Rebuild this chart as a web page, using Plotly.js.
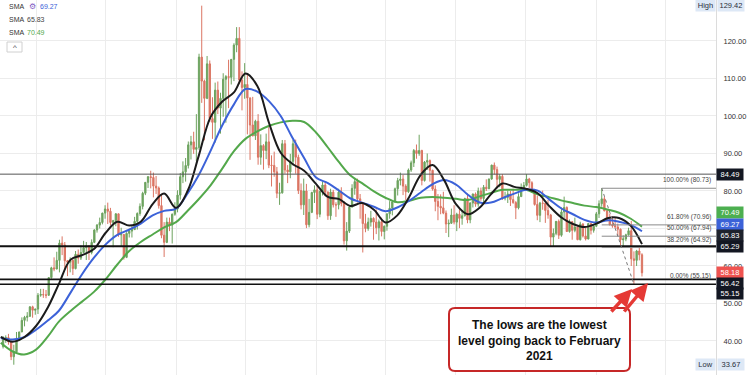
<!DOCTYPE html>
<html><head><meta charset="utf-8">
<script src="https://cdn.plot.ly/plotly-3.0.1.min.js"></script>
<style>html,body{margin:0;padding:0;background:#fff}#chart{width:750px;height:375px}</style>
</head><body><div id="chart"></div>
<script>
// Weekly candles, weeks starting 2020-10-05
const openP = [
38.5,40.6,40.9,39.8,35.8,37.1,40.1,42.4,45.5,46.3,46.6,49.1,48.2,
48.5,52.2,52.4,52.3,52.2,56.9,59.5,59.2,61.5,66.1,65.6,61.4,61.0,61.5,59.3,63.1,62.1,63.6,64.9,65.4,63.6,66.3,69.6,70.9,71.6,74.1,75.2,74.6,71.6,72.1,73.9,68.3,68.4,62.3,68.7,69.3,69.7,71.9,74.0,75.9,79.4,82.3,83.8,83.6,81.3,80.8,76.1,68.2,66.3,71.7,70.9,73.8,
75.2,78.9,83.8,85.1,86.8,92.3,93.1,91.1,91.6,115.7,109.3,104.7,113.9,99.3,98.3,106.9,102.1,104.7,109.8,110.5,110.3,115.1,118.9,120.7,109.6,107.6,108.4,104.8,97.6,94.7,98.6,89.0,92.1,90.8,93.1,86.9,86.8,85.1,79.4,79.5,92.6,85.6,85.1,87.9,92.6,89.0,80.1,76.3,80.0,71.0,74.3,79.6,
80.3,73.8,79.9,81.6,79.7,73.4,79.7,76.3,76.3,79.7,76.7,66.7,69.3,75.7,80.7,82.5,77.9,76.8,71.3,70.0,71.7,72.7,71.7,70.2,71.8,69.2,70.6,73.9,75.4,77.1,80.6,82.8,83.2,81.3,79.8,85.6,87.5,90.8,90.0,90.8,82.8,87.7,88.1,85.5,80.5,77.2,75.9,75.5,74.1,71.2,71.4,73.6,
71.7,73.8,72.7,73.4,78.0,72.3,76.8,79.2,76.5,80.0,78.0,81.0,80.6,83.2,86.9,85.7,83.1,83.9,78.1,78.3,79.2,77.7,76.9,75.5,78.5,80.7,81.5,83.2,82.2,80.1,76.4,73.5,76.8,76.7,74.8,73.6,67.7,68.7,71.9,68.2,74.4,75.6,69.2,71.8,69.5,70.4,67.0,71.2,68.0,67.2,71.3,69.5,70.6,
73.9,76.6,77.9,74.7,72.5,71.0,70.7,70.4,69.8,67.0,67.2,68.3,69.4,61.9,61.5,64.0,63.0];
const highP = [
41.3,41.5,41.9,39.8,39.0,42.4,42.5,46.3,46.7,47.7,49.3,49.4,48.6,
52.8,53.9,53.9,53.6,57.0,59.8,62.3,63.8,67.0,67.9,66.4,61.6,62.3,61.8,64.0,64.4,65.5,66.7,66.4,65.5,67.1,69.8,71.2,72.9,74.2,76.2,76.9,75.5,72.3,74.1,74.0,70.2,68.4,69.0,70.0,70.8,73.1,74.3,76.7,79.8,82.4,84.0,85.4,84.9,84.0,81.2,79.1,71.7,72.9,72.9,74.0,77.0,
80.2,84.8,87.9,88.8,93.2,94.7,95.8,100.5,116.6,129.42,109.7,116.0,114.8,105.0,108.9,109.2,106.2,111.4,110.9,115.0,115.2,119.4,123.7,123.7,111.9,114.1,111.4,105.0,105.1,99.0,100.5,95.1,92.5,95.3,97.6,89.5,90.5,86.4,82.2,93.6,93.6,86.9,89.9,93.7,93.7,89.7,82.0,83.3,81.9,77.9,79.8,81.5,
81.5,80.1,82.5,82.6,79.9,80.6,80.3,77.0,80.6,81.0,77.3,71.7,76.0,81.8,83.5,83.3,79.2,76.9,73.9,72.9,74.7,73.0,75.1,72.4,72.9,70.8,74.0,77.3,77.2,80.9,83.5,84.9,84.3,81.8,86.0,88.1,91.2,92.4,95.0,91.0,88.0,90.0,88.4,85.7,81.5,79.2,79.1,79.8,74.8,72.4,75.3,76.2,
74.2,75.2,74.9,78.2,79.3,77.0,79.3,79.6,80.9,80.9,81.6,83.1,83.3,87.0,87.6,86.5,84.5,84.5,79.8,80.1,80.0,80.6,77.3,79.4,82.0,82.4,84.5,83.5,82.6,80.3,78.8,77.1,80.1,76.9,77.6,73.9,70.0,72.0,72.4,75.6,78.5,75.9,72.4,72.0,72.9,70.5,71.8,71.4,70.2,71.4,71.4,71.1,74.4,
77.5,80.73,78.5,75.2,73.9,73.3,72.8,71.3,70.0,68.2,68.6,70.2,72.0,63.9,64.3,64.87,63.4];
const lowP = [
38.0,39.5,39.0,34.9,33.67,37.0,40.0,42.4,43.9,45.2,46.4,46.2,47.0,
47.2,51.8,51.5,51.4,52.0,56.6,58.6,59.1,58.3,62.9,58.9,57.3,58.3,57.6,59.1,60.6,61.6,63.4,61.6,61.6,63.1,66.1,68.9,70.0,71.1,72.6,71.2,70.8,65.0,70.6,67.8,65.2,61.7,62.1,67.6,67.6,69.6,69.7,73.4,75.1,78.9,80.8,80.7,78.3,79.2,75.3,67.4,62.4,66.1,69.3,66.0,73.4,
74.3,77.7,82.1,82.5,86.0,88.4,89.9,88.0,91.0,103.5,93.5,104.5,98.4,93.9,92.9,100.5,95.3,99.8,98.2,102.1,108.4,109.3,117.0,108.5,101.5,104.6,95.1,88.3,94.6,93.6,87.0,87.0,85.7,88.5,86.1,81.2,83.8,78.1,76.3,79.3,84.6,82.1,83.4,86.8,84.6,79.2,75.1,73.6,70.1,70.3,74.1,76.8,
72.5,73.0,78.8,78.6,72.3,72.3,75.6,73.1,75.1,75.9,65.7,64.1,68.8,75.6,79.0,76.9,72.6,63.6,69.0,69.4,70.5,67.0,68.5,66.8,67.9,67.1,69.4,72.6,73.5,76.8,78.8,81.5,78.9,77.6,79.5,85.1,86.4,88.6,89.4,81.5,82.5,85.6,82.5,80.1,74.6,72.2,73.8,73.8,68.8,67.7,71.2,71.1,
69.3,70.1,71.0,73.2,71.4,71.4,75.6,75.8,75.8,77.4,76.8,80.0,80.5,83.0,84.4,80.7,81.0,77.6,77.5,76.8,76.0,76.6,72.5,75.1,78.4,80.0,81.2,80.8,79.6,76.1,72.2,71.7,75.0,71.5,72.6,65.3,65.29,68.2,67.2,67.8,72.8,69.1,68.9,67.0,69.0,66.9,66.8,67.6,66.8,67.1,68.4,68.9,70.5,
72.8,75.8,74.6,71.9,70.8,70.2,70.2,68.0,65.2,65.2,66.6,68.1,60.0,55.15,60.0,61.5,57.2];
const closeP = [
40.6,40.9,39.8,35.8,37.1,40.1,42.4,45.5,46.3,46.6,49.1,48.2,48.5,
52.2,52.4,52.3,52.2,56.9,59.5,59.2,61.5,66.1,65.6,61.4,61.0,61.5,59.3,63.1,62.1,63.6,64.9,65.4,63.6,66.3,69.6,70.9,71.6,74.1,75.2,74.6,71.6,72.1,73.9,68.3,68.4,62.3,68.7,69.3,69.7,71.9,74.0,75.9,79.4,82.3,83.8,83.6,81.3,80.8,76.1,68.2,66.3,71.7,70.9,73.8,75.2,
78.9,83.8,85.1,86.8,92.3,93.1,91.1,91.6,115.7,109.3,104.7,113.9,99.3,98.3,106.9,102.1,104.7,109.8,110.5,110.3,115.1,118.9,120.7,109.6,107.6,108.4,104.8,97.6,94.7,98.6,89.0,92.1,90.8,93.1,86.9,86.8,85.1,79.4,79.5,92.6,85.6,85.1,87.9,92.6,89.0,80.1,76.3,80.0,71.0,74.3,79.6,80.3,
73.8,79.9,81.6,79.7,73.4,79.7,76.3,76.3,79.7,76.7,66.7,69.3,75.7,80.7,82.5,77.9,76.8,71.3,70.0,71.7,72.7,71.7,70.2,71.8,69.2,70.6,73.9,75.4,77.1,80.6,82.8,83.2,81.3,79.8,85.6,87.5,90.8,90.0,90.8,82.8,87.7,88.1,85.5,80.5,77.2,75.9,75.5,74.1,71.2,71.4,73.6,71.7,
73.8,72.7,73.4,78.0,72.3,76.8,79.2,76.5,80.0,78.0,81.0,80.6,83.2,86.9,85.7,83.1,83.9,78.1,78.3,79.2,77.7,76.9,75.5,78.5,80.7,81.5,83.2,82.2,80.1,76.4,73.5,76.8,76.7,74.8,73.6,67.7,68.7,71.9,68.2,74.4,75.6,69.2,71.8,69.5,70.4,67.0,71.2,68.0,67.2,71.3,69.5,70.6,73.9,
76.6,77.9,74.7,72.5,71.0,70.7,70.4,69.8,67.0,67.2,68.3,69.4,61.9,61.5,64.0,63.0,58.18];

// Moving averages read monthly (Oct 2020 .. Apr 2025, then last bar)
const sma50 = [41.1,39.8,41.0,
44.0,49.0,55.1,61.7,62.9,64.5,68.8,71.8,70.8,71.8,76.5,79.3,
75.5,80.2,89.3,99.7,103.8,106.3,111.3,108.0,98.0,90.2,87.2,85.4,
81.9,78.4,77.9,76.0,76.8,75.0,71.6,73.5,78.4,84.3,86.9,82.9,
76.5,73.8,75.4,79.1,82.0,81.1,80.6,79.4,75.9,73.0,71.2,70.4,
71.3,72.8,72.8,70.7,65.83];
const sma100 = [40.8,40.4,41.0,
43.0,45.5,48.0,52.9,57.8,62.2,65.7,68.3,69.7,71.3,73.5,74.7,
75.3,79.5,84.2,90.7,97.4,103.1,107.2,106.5,103.9,100.0,94.1,88.8,
83.6,82.1,80.2,78.0,76.9,75.8,74.6,75.6,77.4,79.6,81.8,82.9,
81.7,79.0,77.0,76.9,78.1,79.3,80.3,80.1,77.7,75.4,73.8,72.3,
71.6,72.2,71.8,70.9,69.27];
const sma200 = [39.5,37.2,36.4,
37.7,41.2,45.1,48.0,50.5,53.1,56.4,60.4,64.0,66.4,68.4,70.3,
71.7,74.8,77.8,81.5,85.9,90.6,93.9,95.9,97.4,98.3,98.7,98.4,
95.6,91.6,87.8,84.1,82.1,79.9,78.2,77.0,77.4,78.2,78.4,78.2,
77.9,77.6,78.5,79.5,80.3,80.3,80.3,79.1,78.3,77.5,76.8,76.1,
75.7,75.0,74.2,72.6,70.49];

const levelValues = [84.49, 65.29, 56.42, 55.15];
const fibLevels = [80.73, 70.96, 67.94, 64.92, 55.15];
const fibNames = ['100.00%', '61.80%', '50.00%', '38.20%', '0.00%'];
const fibStart = '2025-01-15', fibEnd = '2025-04-09';
const priceTicks = [40, 50, 60, 70, 80, 90, 100, 110, 120];
const hiddenTicks = [70];   // covered by the price-scale boxes in the reference
const gridDates = ['2021-01-01','2021-07-01','2022-01-01','2022-07-01','2023-01-01','2023-07-01','2024-01-01','2024-07-01','2025-01-01','2025-07-01'];
const smaLast = {sma100: 69.27, sma50: 65.83, sma200: 70.49};
const scaleLabels = [84.49, 70.49, 69.27, 65.83, 65.29, 58.18, 56.42, 55.15];
const highLabel = 129.42, lowLabel = 33.67;

const weekDates = [];
const t0 = Date.UTC(2020, 9, 7);
for (let i = 0; i < closeP.length; i++) weekDates.push(new Date(t0 + i * 7 * 86400000).toISOString().slice(0, 10));
const smaDates = [];
for (let k = 0; k < 55; k++) smaDates.push(new Date(Date.UTC(2020, 9 + k, 1)).toISOString().slice(0, 10));
smaDates.push('2025-04-30');

const W = 716, H = 375;
const px = x => x / W, py = y => 1 - y / H;
const FONT = 'Liberation Sans, Arial, sans-serif';

const traces = [
  {type: 'candlestick', x: weekDates, open: openP, high: highP, low: lowP, close: closeP,
   increasing: {line: {color: '#6da35f', width: 1}, fillcolor: '#6da35f'},
   decreasing: {line: {color: '#db7563', width: 1}, fillcolor: '#db7563'},
   whiskerwidth: 0, hoverinfo: 'skip', showlegend: false},
  {type: 'scatter', mode: 'lines', x: smaDates, y: sma200, line: {color: '#53a84b', width: 2, shape: 'spline', smoothing: 1}, showlegend: false, hoverinfo: 'skip'},
  {type: 'scatter', mode: 'lines', x: smaDates, y: sma100, line: {color: '#3c62d8', width: 2, shape: 'spline', smoothing: 1}, showlegend: false, hoverinfo: 'skip'},
  {type: 'scatter', mode: 'lines', x: smaDates, y: sma50, line: {color: '#1b1b1b', width: 2, shape: 'spline', smoothing: 1}, showlegend: false, hoverinfo: 'skip'}
];

const shapes = [];
const lvlStyle = [{w: 1, c: '#555'}, {w: 2, c: '#111'}, {w: 1.6, c: '#111'}, {w: 1.6, c: '#111'}];
levelValues.forEach((v, i) => shapes.push({type: 'line', xref: 'paper', x0: 0, x1: 1, yref: 'y', y0: v, y1: v, line: {color: lvlStyle[i].c, width: lvlStyle[i].w}, layer: 'above'}));
fibLevels.forEach((v, i) => { if (i < 4) shapes.push({type: 'line', xref: 'x', x0: fibStart, x1: '2025-11-09', yref: 'y', y0: v, y1: v, line: {color: '#8a8a8a', width: 1}}); });
shapes.push({type: 'line', xref: 'x', yref: 'y', x0: fibStart, y0: fibLevels[0], x1: fibEnd, y1: fibLevels[4], line: {color: '#777', width: 1, dash: 'dot'}});
// legend collapse box
shapes.push({type: 'rect', xref: 'paper', yref: 'paper', x0: px(7), x1: px(22), y0: py(52), y1: py(42), line: {color: '#d0d0d0', width: 1}, fillcolor: '#fff'});
// rounded callout box
(function () {
  const x0 = px(449), x1 = px(630), yt = py(308), yb = py(371), rx = 6 / W, ry = 6 / H;
  const p = `M ${x0 + rx},${yt} L ${x1 - rx},${yt} Q ${x1},${yt} ${x1},${yt - ry} L ${x1},${yb + ry} Q ${x1},${yb} ${x1 - rx},${yb} L ${x0 + rx},${yb} Q ${x0},${yb} ${x0},${yb + ry} L ${x0},${yt - ry} Q ${x0},${yt} ${x0 + rx},${yt} Z`;
  shapes.push({type: 'path', xref: 'paper', yref: 'paper', path: p, fillcolor: '#ffffff', line: {color: '#c62828', width: 2}, layer: 'above'});
})();

const ann = [];
function txt(x, y, t, opt) {
  ann.push(Object.assign({xref: 'paper', yref: 'paper', x: x, y: y, text: t, showarrow: false,
    xanchor: 'center', yanchor: 'middle', font: {family: FONT, size: 7, color: '#333'}}, opt || {}));
}
// legend
txt(px(7), py(6.5), 'SMA', {xanchor: 'left'});
txt(px(27), py(6.5), '⚙', {xanchor: 'left', font: {family: 'DejaVu Sans', size: 8, color: '#7e57c2'}});
txt(px(38), py(6.5), smaLast.sma100.toFixed(2), {xanchor: 'left', font: {family: FONT, size: 7, color: '#3c62d8'}});
txt(px(7), py(19.5), 'SMA', {xanchor: 'left'});
txt(px(25), py(19.5), smaLast.sma50.toFixed(2), {xanchor: 'left', font: {family: FONT, size: 7, color: '#444'}});
txt(px(7), py(32.5), 'SMA', {xanchor: 'left'});
txt(px(24.5), py(32.5), smaLast.sma200.toFixed(2), {xanchor: 'left', font: {family: FONT, size: 7, color: '#53a84b'}});
txt(px(14.5), py(47.5), '^', {font: {family: FONT, size: 8, color: '#444'}});
// fib labels
fibLevels.forEach((v, i) => ann.push({xref: 'paper', yref: 'y', x: px(713), y: v, xanchor: 'right', yanchor: 'bottom', yshift: 2, text: fibNames[i] + ' (' + v.toFixed(2) + ')', showarrow: false, font: {family: FONT, size: 6.5, color: '#444'}}));
// price scale boxes
const boxY = [174.2, 213, 224, 235.5, 246, 272.5, 283, 293.5];
const boxC = ['#131722', '#4caf50', '#3c62d8', '#1e222d', '#131722', '#ef5350', '#131722', '#131722'];
scaleLabels.forEach((v, i) => txt(729.5 / W, py(boxY[i]), v.toFixed(2), {bgcolor: boxC[i], width: 24, height: 9, borderpad: 1, font: {family: FONT, size: 7.5, color: '#fff'}}));
// high / low
const hl = {bgcolor: '#dde8f6', height: 9, borderpad: 1};
txt(705 / W, py(5.5), 'High', Object.assign({width: 17, font: {family: FONT, size: 7.5, color: '#2a2e39'}}, hl));
txt(730.5 / W, py(5.5), highLabel.toFixed(2), Object.assign({width: 24, font: {family: FONT, size: 7.5, color: '#2a2e39'}}, hl));
txt(705 / W, py(364), 'Low', Object.assign({width: 17, font: {family: FONT, size: 7.5, color: '#2a2e39'}}, hl));
txt(730.5 / W, py(364), lowLabel.toFixed(2), Object.assign({width: 24, font: {family: FONT, size: 7.5, color: '#2a2e39'}}, hl));
// callout text
txt(px(539.5), py(340), '<b>The lows are the lowest<br>level going back to February<br>2021</b>', {font: {family: FONT, size: 12, color: '#111'}});
// arrows
ann.push({xref: 'paper', yref: 'paper', x: px(632), y: py(289), ax: -22, ay: 24, text: '', showarrow: true, arrowhead: 2, arrowsize: 1, arrowwidth: 3.5, arrowcolor: '#e53935'});
ann.push({xref: 'paper', yref: 'paper', x: px(648), y: py(283), ax: -25, ay: 30, text: '', showarrow: true, arrowhead: 2, arrowsize: 1, arrowwidth: 3.5, arrowcolor: '#e53935'});

const layout = {
  width: 750, height: 375, margin: {l: 0, r: 34, t: 0, b: 0},
  paper_bgcolor: '#fff', plot_bgcolor: '#fff', showlegend: false,
  font: {family: FONT, size: 8, color: '#333'},
  xaxis: {type: 'date', range: ['2020-09-29', '2025-11-09'], rangeslider: {visible: false},
          tickvals: gridDates, showticklabels: false, showgrid: true, gridcolor: '#ececec', gridwidth: 1, zeroline: false, showline: false, ticks: ''},
  yaxis: {side: 'right', range: [30.93, 130.93], tickvals: priceTicks,
          ticktext: priceTicks.map(v => hiddenTicks.includes(v) ? '' : v.toFixed(2)),
          showgrid: true, gridcolor: '#ececec', zeroline: false, showline: true, linecolor: '#dcdcdc', linewidth: 1,
          ticks: '', ticklabelstandoff: 5, tickfont: {family: FONT, size: 7.5, color: '#333'}},
  shapes: shapes, annotations: ann
};
Plotly.newPlot('chart', traces, layout, {displayModeBar: false, staticPlot: true});
</script></body></html>
